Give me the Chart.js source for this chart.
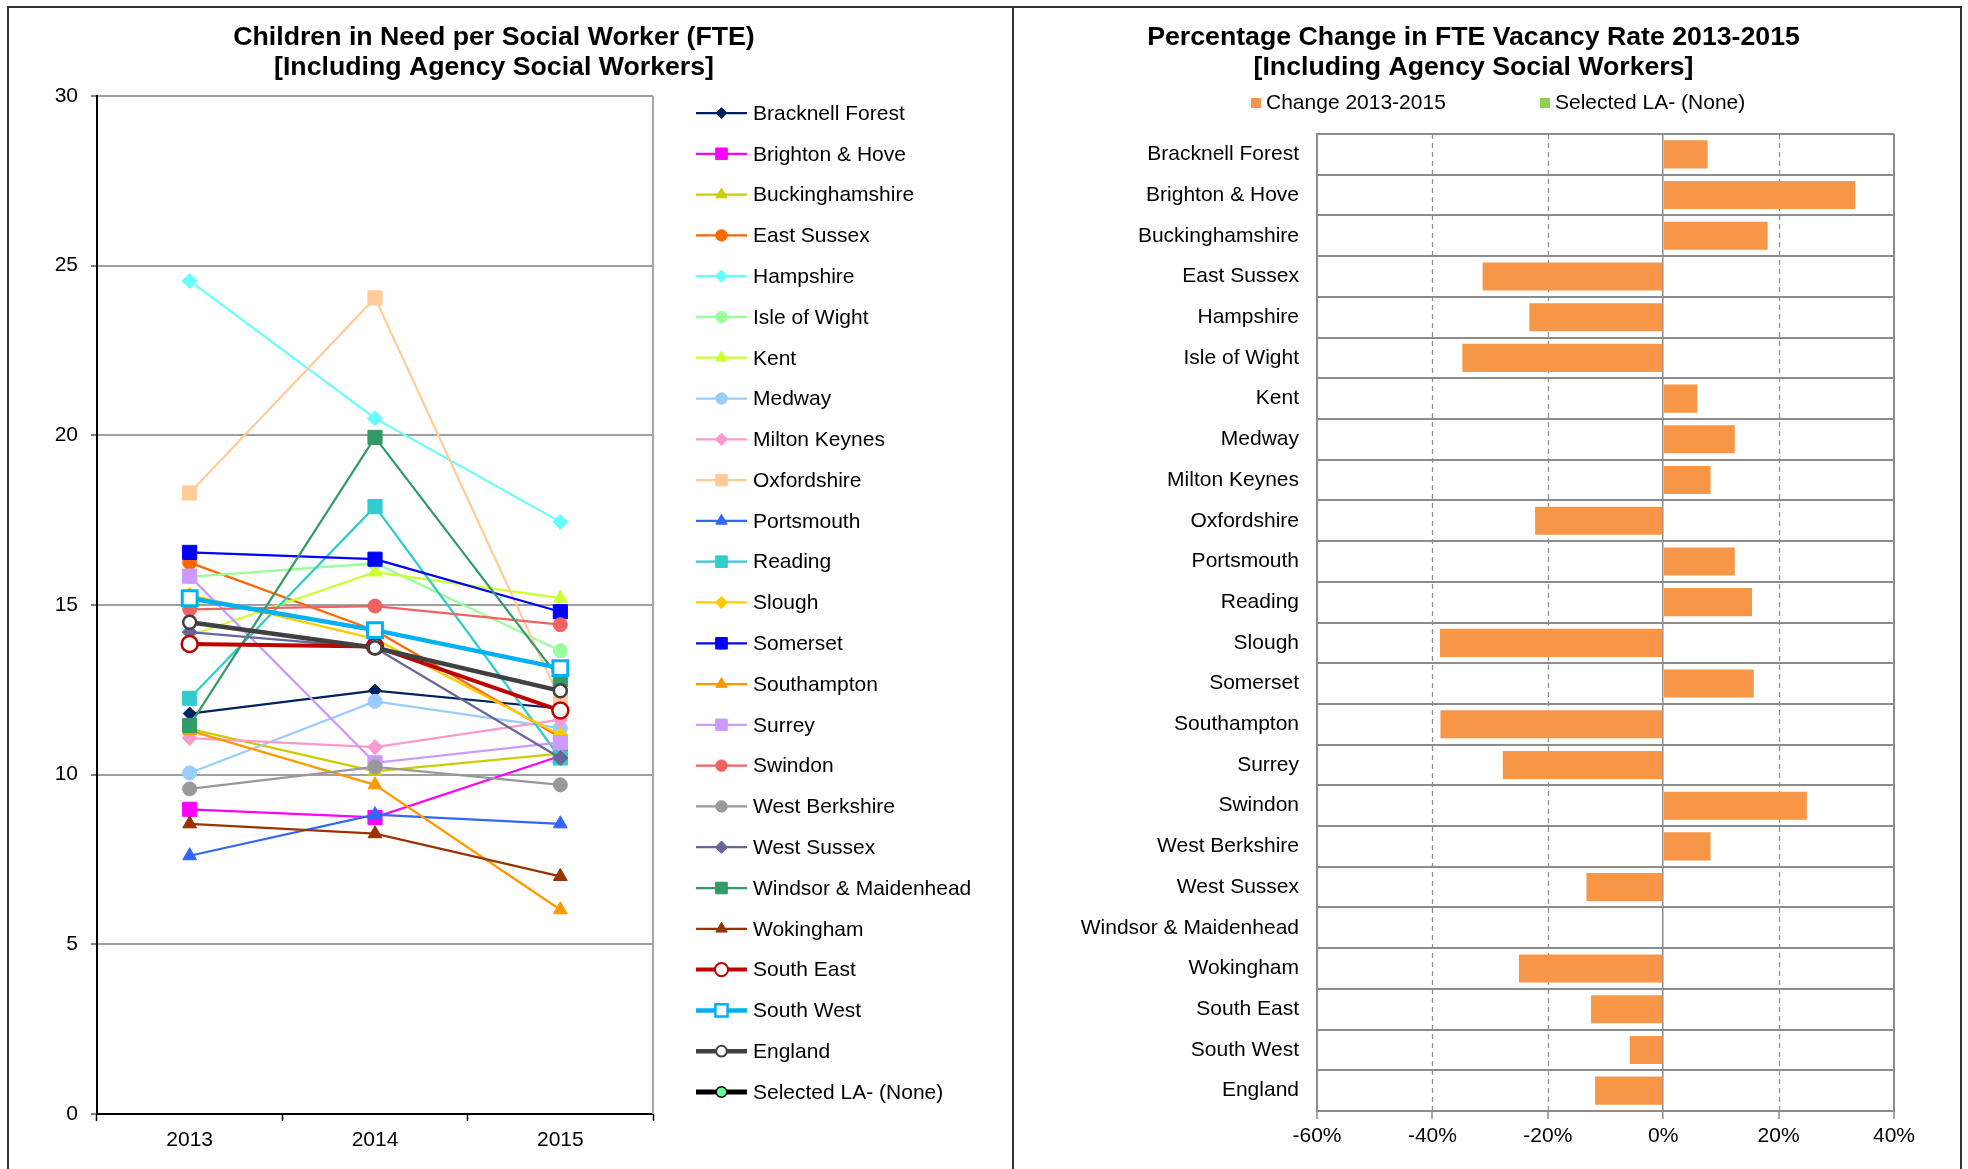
<!DOCTYPE html>
<html>
<head>
<meta charset="utf-8">
<script src="https://cdn.jsdelivr.net/npm/chart.js@4.4.1/dist/chart.umd.min.js"></script>
<style>
html,body{margin:0;padding:0;background:#fff;width:1968px;height:1169px;overflow:hidden;}
#left{position:absolute;left:0;top:0;width:1012px;height:1169px;}
#right{position:absolute;left:1014px;top:0;width:954px;height:1169px;}
.frame{position:absolute;background:#333;}
</style>
</head>
<body>
<div class="frame" style="left:7px;top:6px;width:1955px;height:2px"></div>
<div class="frame" style="left:7px;top:6px;width:2px;height:1163px"></div>
<div class="frame" style="left:1012px;top:6px;width:2px;height:1163px"></div>
<div class="frame" style="left:1960px;top:6px;width:2px;height:1163px"></div>
<div id="left"><canvas id="c1"></canvas></div>
<div id="right"><canvas id="c2"></canvas></div>
<script>
// ---------------- DATA ----------------
const years = ['2013', '2014', '2015'];
const authorities = ['Bracknell Forest', 'Brighton & Hove', 'Buckinghamshire', 'East Sussex', 'Hampshire',
  'Isle of Wight', 'Kent', 'Medway', 'Milton Keynes', 'Oxfordshire', 'Portsmouth', 'Reading', 'Slough',
  'Somerset', 'Southampton', 'Surrey', 'Swindon', 'West Berkshire', 'West Sussex', 'Windsor & Maidenhead',
  'Wokingham', 'South East', 'South West', 'England'];
const selectedLabel = 'Selected LA- (None)';
// Children in need per social worker (FTE)
const cin2013 = [11.80, 8.98, 11.35, 16.25, 24.55, 15.83, 14.10, 10.05, 11.08, 18.30, 7.61, 12.25, 15.30,
  16.55, 11.30, 15.85, 14.87, 9.58, 14.20, 11.45, 8.55, 13.85, 15.20, 14.49];
const cin2014 = [12.48, 8.74, 10.10, 14.25, 20.50, 16.23, 15.97, 12.16, 10.81, 24.05, 8.82, 17.90, 14.00,
  16.35, 9.70, 10.35, 14.97, 10.23, 13.74, 19.94, 8.26, 13.78, 14.26, 13.74];
const cin2015 = [11.95, 10.55, 10.62, 11.10, 17.45, 13.65, 15.20, 11.37, 11.62, 12.20, 8.55, 10.49, 11.17,
  14.80, 6.02, 10.95, 14.42, 9.70, 10.49, 12.80, 7.00, 11.89, 13.14, 12.47];
const selectedCin = [null, null, null];
// Percentage change in FTE vacancy rate 2013-2015
const vacancyChange = [7.7, 33.3, 18.1, -31.3, -23.2, -34.8, 5.9, 12.4, 8.2, -22.2, 12.4, 15.4, -38.7,
  15.7, -38.6, -27.8, 24.9, 8.2, -13.3, null, -25.0, -12.5, -5.8, -11.8];
const selectedChange = authorities.map(() => null);
const barSeriesLabels = ['Change 2013-2015', 'Selected LA- (None)'];

// ---------------- STYLES ----------------
const FONT = "'Liberation Sans', Arial, Helvetica, sans-serif";
Chart.defaults.font.family = FONT;
Chart.defaults.color = '#000';
const seriesStyle = [
  {c:'#002060', p:'rectRot', r:6.5},
  {c:'#FF00FF', p:'rect', r:10},
  {c:'#CCCC00', p:'triangle', r:8},
  {c:'#FF6600', p:'circle', r:7},
  {c:'#66FFFF', p:'rectRot', r:7.5},
  {c:'#99FF99', p:'circle', r:7},
  {c:'#CCFF33', p:'triangle', r:8},
  {c:'#99CCFF', p:'circle', r:7},
  {c:'#FF99CC', p:'rectRot', r:7.5},
  {c:'#FFCC99', p:'rect', r:10},
  {c:'#3366FF', p:'triangle', r:8},
  {c:'#33CCCC', p:'rect', r:10},
  {c:'#FFCC00', p:'rectRot', r:7.5},
  {c:'#0000FF', p:'rect', r:10},
  {c:'#FF9900', p:'triangle', r:8},
  {c:'#CC99FF', p:'rect', r:10},
  {c:'#F06262', p:'circle', r:7},
  {c:'#999999', p:'circle', r:7},
  {c:'#666699', p:'rectRot', r:7.5},
  {c:'#339966', p:'rect', r:10},
  {c:'#993300', p:'triangle', r:8},
  {c:'#C00000', p:'circle', r:8, hollow:true, w:4, bw:2.5},
  {c:'#00B0F0', p:'rect', r:10.5, hollow:true, w:4.5, bw:3},
  {c:'#404040', p:'circle', r:6.5, hollow:true, w:4.5, bw:2.5}
];
const selectedStyle = {c:'#000000', fill:'#66FF99', p:'circle', r:6.5, w:5, bw:1.5};

// ---------------- LEFT CHART ----------------
const lineDatasets = authorities.map((name, i) => {
  const s = seriesStyle[i];
  return {
    label: name,
    data: [cin2013[i], cin2014[i], cin2015[i]],
    borderColor: s.c,
    backgroundColor: s.hollow ? '#FFFFFF' : s.c,
    pointBackgroundColor: s.hollow ? '#FFFFFF' : s.c,
    pointBorderColor: s.c,
    pointBorderWidth: s.hollow ? s.bw : 1,
    pointStyle: s.p,
    pointRadius: s.r,
    borderWidth: s.w || 2.25,
    order: 100 - i,
    tension: 0
  };
});
lineDatasets.push({
  label: selectedLabel, data: selectedCin, borderColor: selectedStyle.c,
  pointBackgroundColor: selectedStyle.fill, pointBorderColor: '#000', pointStyle: 'circle',
  pointRadius: selectedStyle.r, borderWidth: selectedStyle.w, order: 0
});

const leftDecor = {
  id: 'leftDecor',
  beforeDatasetsDraw(chart) {
    const {ctx, chartArea: a} = chart;
    ctx.save();
    ctx.strokeStyle = '#A6A6A6'; ctx.lineWidth = 2;
    ctx.beginPath(); ctx.moveTo(a.right, a.top); ctx.lineTo(a.right, a.bottom); ctx.stroke();
    ctx.restore();
  },
  afterDraw(chart) {
    const ctx = chart.ctx;
    ctx.save();
    ctx.fillStyle = '#000';
    ctx.textAlign = 'center'; ctx.textBaseline = 'middle';
    ctx.font = 'bold 26.7px ' + FONT;
    ctx.fillText('Children in Need per Social Worker (FTE)', 494, 37.5);
    ctx.fillText('[Including Agency Social Workers]', 494, 67.5);
    // legend
    ctx.textAlign = 'left';
    ctx.font = '21px ' + FONT;
    const all = seriesStyle.concat([selectedStyle]);
    const names = authorities.concat([selectedLabel]);
    for (let i = 0; i < names.length; i++) {
      const s = all[i];
      const y = 113 + i * 40.79;
      ctx.strokeStyle = s.c;
      ctx.lineWidth = s.w || 2.25;
      ctx.beginPath(); ctx.moveTo(696, y); ctx.lineTo(747, y); ctx.stroke();
      ctx.fillStyle = s.fill ? s.fill : (s.hollow ? '#FFFFFF' : s.c);
      ctx.strokeStyle = s.fill ? '#000' : s.c;
      ctx.lineWidth = s.hollow ? (s.bw - 0.5) : (s.bw || 1);
      Chart.helpers.drawPoint(ctx, {pointStyle: s.p, rotation: 0, radius: s.r * 0.82, borderWidth: ctx.lineWidth}, 721.5, y);
      ctx.fillStyle = '#000';
      ctx.fillText(names[i], 753, y + 1);
    }
    ctx.restore();
  }
};

new Chart(document.getElementById('c1'), {
  type: 'line',
  data: {labels: years, datasets: lineDatasets},
  options: {
    responsive: true, maintainAspectRatio: false, animation: false,
    layout: {padding: {left: 0, top: 96, right: 359, bottom: 0}},
    plugins: {legend: {display: false}, title: {display: false}, tooltip: {enabled: false}},
    scales: {
      x: {
        type: 'category', offset: true,
        grid: {offset: true, drawOnChartArea: false, drawTicks: true, tickLength: 7, tickColor: '#000', tickWidth: 1.5},
        border: {color: '#000', width: 2},
        ticks: {font: {size: 21}, color: '#000', padding: 7},
        afterFit(s) { s.height = 55; }
      },
      y: {
        min: 0, max: 30,
        ticks: {stepSize: 5, font: {size: 21}, color: '#000', padding: 13},
        grid: {color: '#A0A0A0', lineWidth: 2, tickColor: '#000', tickLength: 6, tickWidth: 1},
        border: {color: '#000', width: 2},
        afterFit(s) { s.width = 97; }
      }
    }
  },
  plugins: [leftDecor]
});

// ---------------- RIGHT CHART ----------------
const rightDecor = {
  id: 'rightDecor',
  beforeDatasetsDraw(chart) {
    const {ctx, chartArea: a} = chart;
    const xs = chart.scales.x;
    ctx.save();
    ctx.strokeStyle = '#8C8C8C'; ctx.lineWidth = 1.25; ctx.setLineDash([5, 4]);
    [-40, -20, 20].forEach(v => {
      const x = Math.round(xs.getPixelForValue(v)) + 0.5;
      ctx.beginPath(); ctx.moveTo(x, a.top); ctx.lineTo(x, a.bottom); ctx.stroke();
    });
    ctx.restore();
  },
  afterDraw(chart) {
    const ctx = chart.ctx;
    ctx.save();
    ctx.fillStyle = '#000';
    ctx.textAlign = 'center'; ctx.textBaseline = 'middle';
    ctx.font = 'bold 26.7px ' + FONT;
    ctx.fillText('Percentage Change in FTE Vacancy Rate 2013-2015', 459.5, 37.5);
    ctx.fillText('[Including Agency Social Workers]', 459.5, 67.5);
    ctx.font = '21px ' + FONT;
    ctx.textAlign = 'left';
    ctx.fillStyle = '#F79646'; ctx.fillRect(237, 98, 10, 10);
    ctx.fillStyle = '#92D050'; ctx.fillRect(526, 98, 10, 10);
    ctx.fillStyle = '#000';
    ctx.fillText(barSeriesLabels[0], 252, 103);
    ctx.fillText(barSeriesLabels[1], 541, 103);
    ctx.restore();
  }
};

new Chart(document.getElementById('c2'), {
  type: 'bar',
  data: {
    labels: authorities,
    datasets: [
      {label: barSeriesLabels[0], data: vacancyChange, backgroundColor: '#F79646', borderWidth: 0,
       barPercentage: 0.69, categoryPercentage: 1, grouped: false},
      {label: barSeriesLabels[1], data: selectedChange, backgroundColor: '#92D050', borderWidth: 0,
       barPercentage: 0.69, categoryPercentage: 1, grouped: false}
    ]
  },
  options: {
    indexAxis: 'y',
    responsive: true, maintainAspectRatio: false, animation: false,
    layout: {padding: {left: 0, top: 134, right: 74, bottom: 0}},
    plugins: {legend: {display: false}, title: {display: false}, tooltip: {enabled: false}},
    scales: {
      x: {
        min: -60, max: 40,
        ticks: {stepSize: 20, font: {size: 21}, color: '#000', padding: 5, callback: v => v + '%'},
        grid: {
          color: c => (c.tick && [-60, 0, 40].includes(c.tick.value)) ? '#8C8C8C' : 'rgba(0,0,0,0)',
          lineWidth: c => (c.tick && c.tick.value === 0) ? 1.5 : 2,
          tickColor: '#8C8C8C', tickLength: 8, tickWidth: 1.5
        },
        border: {color: '#8C8C8C', width: 2},
        afterFit(s) { s.height = 58; }
      },
      y: {
        type: 'category',
        ticks: {font: {size: 21}, color: '#000', padding: 18, autoSkip: false},
        grid: {offset: true, color: '#8C8C8C', lineWidth: 2, drawTicks: false},
        border: {color: '#8C8C8C', width: 2},
        afterFit(s) { s.width = 303; }
      }
    }
  },
  plugins: [rightDecor]
});
</script>
</body>
</html>
